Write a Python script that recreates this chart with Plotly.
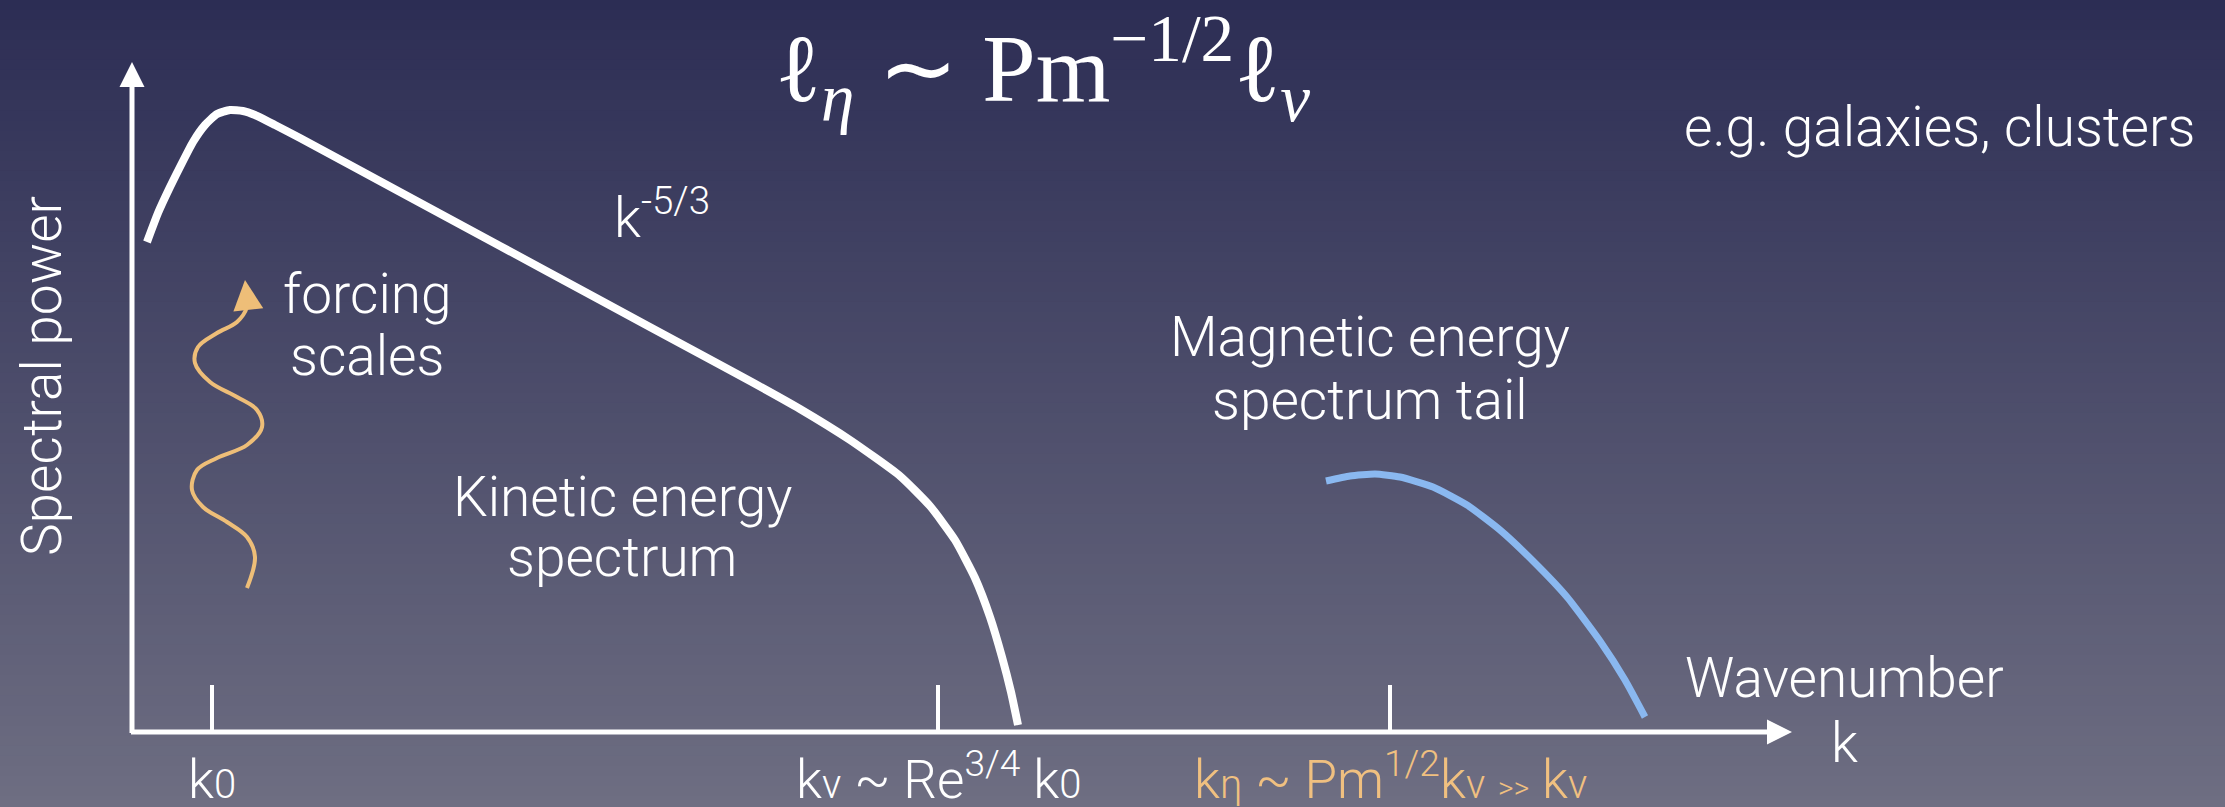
import plotly.graph_objects as go

# ---------------- data (schematic units: k along x, spectral power along y) ----------------
k_kin = [0.15, 0.26, 0.38, 0.50, 0.61, 0.73, 0.85, 0.98, 1.11, 1.23, 1.43, 1.68, 2.68, 3.68,
         4.68, 5.68, 6.18, 6.68, 7.18, 7.68, 7.98, 8.23, 8.43, 8.58, 8.70, 8.79, 8.86]
p_kin = [4.90, 5.19, 5.45, 5.69, 5.90, 6.07, 6.18, 6.22, 6.21, 6.17, 6.07, 5.94, 5.40, 4.86,
         4.32, 3.78, 3.51, 3.23, 2.92, 2.56, 2.26, 1.92, 1.54, 1.15, 0.75, 0.40, 0.07]

k_mag = [11.94, 12.18, 12.43, 12.68, 13.01, 13.35, 13.68, 14.01, 14.35, 14.68, 14.93, 15.13]
p_mag = [2.51, 2.56, 2.58, 2.55, 2.45, 2.27, 2.02, 1.71, 1.35, 0.91, 0.52, 0.15]

wave_x = [1.15, 1.23, 1.15, 0.95, 0.71, 0.60, 0.65, 0.85, 1.15, 1.30, 1.25, 1.05, 0.78,
          0.63, 0.66, 0.85, 1.05, 1.15, 1.15]
wave_y = [1.44, 1.75, 1.95, 2.10, 2.25, 2.42, 2.62, 2.74, 2.87, 3.05, 3.22, 3.35, 3.50,
          3.69, 3.85, 3.99, 4.10, 4.25, 4.39]
wave_tip = (1.13, 4.52)

SUB = "<span style='font-size:40px'>%s</span>"
tick_k = [0.80, 8.06, 12.58]
tick_labels = ["k" + SUB % "0",
               "k" + SUB % "ν" + " ~ Re<sup>3/4</sup> k" + SUB % "0",
               "k" + SUB % "η" + " ~ Pm<sup>1/2</sup>k" + SUB % "ν"
               + " <span style='font-size:30px'>&gt;&gt;</span> k" + SUB % "ν"]
tick_colors = ["#ffffff", "#ffffff", "#f0c080"]

x_axis_end = 16.60
y_axis_end = 6.70

# ---------------- style ----------------
W, H = 2225, 807
FONT = "Roboto"
WHITE = "#ffffff"
ORANGE = "#eebe78"
BLUE = "#8ab8f0"
top_rgb = (44, 45, 84)
bot_rgb = (110, 110, 130)

fig = go.Figure()

# gradient background bands
shapes = []
n = 80
for i in range(n):
    t = (i + 0.5) / n
    c = tuple(int(round(top_rgb[j] + (bot_rgb[j] - top_rgb[j]) * t)) for j in range(3))
    shapes.append(dict(type="rect", xref="paper", yref="paper",
                       x0=0, x1=1, y0=1 - (i + 1) / n, y1=1 - i / n + 0.001,
                       fillcolor="rgb(%d,%d,%d)" % c, line=dict(width=0), layer="below"))

# tick marks
tx, ty = [], []
for k in tick_k:
    tx += [k, k, None]
    ty += [0, 0.47, None]
fig.add_trace(go.Scatter(x=tx, y=ty, mode="lines", line=dict(color=WHITE, width=4),
                         hoverinfo="skip", showlegend=False))

# curves
fig.add_trace(go.Scatter(x=k_kin, y=p_kin, mode="lines",
                         line=dict(color=WHITE, width=8, shape="spline", smoothing=0.5),
                         hoverinfo="skip", showlegend=False))
fig.add_trace(go.Scatter(x=k_mag, y=p_mag, mode="lines",
                         line=dict(color=BLUE, width=7, shape="spline", smoothing=0.5),
                         hoverinfo="skip", showlegend=False))
fig.add_trace(go.Scatter(x=wave_x, y=wave_y, mode="lines",
                         line=dict(color=ORANGE, width=4, shape="spline", smoothing=1.0),
                         hoverinfo="skip", showlegend=False))

ann = []
# axis arrows
ann.append(dict(x=x_axis_end, y=0, ax=-0.025, ay=0, xref="x", yref="y", axref="x", ayref="y",
                text="", showarrow=True, arrowhead=2, arrowsize=1.0, arrowwidth=5,
                arrowcolor=WHITE, standoff=0, startstandoff=0))
ann.append(dict(x=0, y=y_axis_end, ax=0, ay=-0.025, xref="x", yref="y", axref="x", ayref="y",
                text="", showarrow=True, arrowhead=2, arrowsize=1.0, arrowwidth=5,
                arrowcolor=WHITE, standoff=0, startstandoff=0))
# wavy arrow head
ann.append(dict(x=wave_tip[0], y=wave_tip[1], ax=wave_x[-1], ay=wave_y[-1] - 0.05,
                xref="x", yref="y", axref="x", ayref="y",
                text="", showarrow=True, arrowhead=2, arrowsize=1.5, arrowwidth=4,
                arrowcolor=ORANGE, standoff=0))

body = dict(family=FONT, size=55, color=WHITE, weight=300)

def txt(x, y, s, xanchor="center", yanchor="middle", font=None, **kw):
    d = dict(x=x, y=y, xref="x", yref="y", text=s, showarrow=False,
             xanchor=xanchor, yanchor=yanchor, font=font or body, align="center")
    d.update(kw)
    ann.append(d)

# tick labels (anchored to the bottom edge of the figure)
for k, lab, col in zip(tick_k, tick_labels, tick_colors):
    txt(k, 0, lab, yanchor="bottom", yref="paper", yshift=-6,
        font=dict(family=FONT, size=53, color=col, weight=300))

txt(9.10, 6.64, "ℓ<sub><i>η</i></sub> ∼ Pm<sup>−1/2</sup>ℓ<sub><i>ν</i></sub>",
    font=dict(family="Liberation Serif", size=96, color=WHITE))
txt(18.07, 6.05, "e.g. galaxies, clusters")
txt(4.80, 5.18, "k<sup>-5/3</sup>", xanchor="left")
txt(2.35, 4.38, "forcing")
txt(2.35, 3.76, "scales")
txt(4.90, 2.35, "Kinetic energy")
txt(4.90, 1.75, "spectrum")
txt(12.38, 3.95, "Magnetic energy")
txt(12.38, 3.32, "spectrum tail")
txt(17.12, 0.54, "Wavenumber")
txt(17.12, -0.11, "k")
txt(-0.90, 3.56, "Spectral power", textangle=-90)

fig.update_layout(
    width=W, height=H, margin=dict(l=0, r=0, t=0, b=0),
    paper_bgcolor="rgb(78,79,108)", plot_bgcolor="rgba(0,0,0,0)",
    xaxis=dict(range=[-1.32, 20.93], visible=False, domain=[0, 1], fixedrange=True),
    yaxis=dict(range=[-0.75, 7.32], visible=False, domain=[0, 1], fixedrange=True),
    shapes=shapes, annotations=ann, showlegend=False,
)

fig.write_html("out.html", config={"displayModeBar": False},
               post_script="document.body.style.margin='0';document.body.style.padding='0';")
